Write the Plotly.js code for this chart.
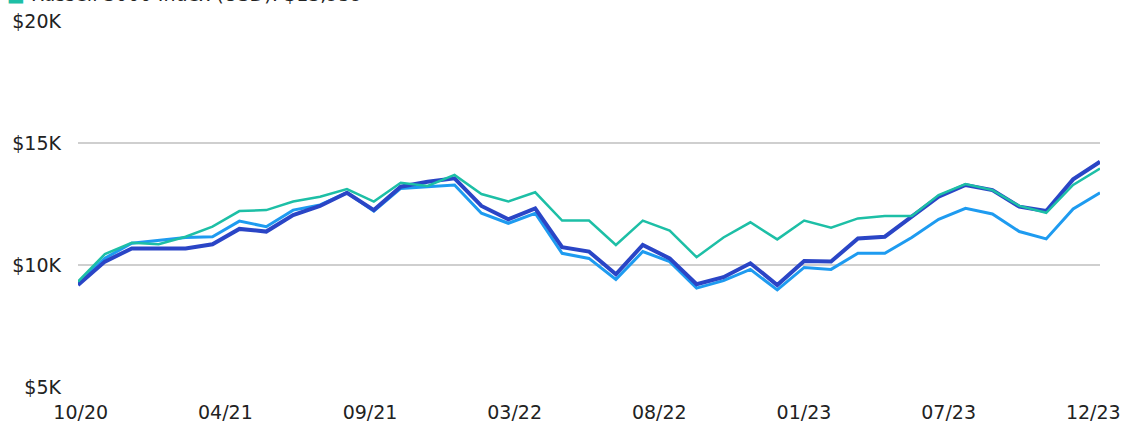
<!DOCTYPE html>
<html>
<head>
<meta charset="utf-8">
<script src="https://cdn.plot.ly/plotly-3.0.1.min.js"></script>
<style>
  html, body { margin: 0; padding: 0; background: #ffffff; }
  #chart { width: 1123px; height: 426px; }
</style>
</head>
<body>
<div id="chart"></div>
<script>
// Month labels (monthly, 10/20 .. 12/23)
const months = ["10/20","11/20","12/20","01/21","02/21","03/21","04/21","05/21","06/21","07/21","08/21","09/21",
  "10/21","11/21","12/21","01/22","02/22","03/22","04/22","05/22","06/22","07/22","08/22","09/22",
  "10/22","11/22","12/22","01/23","02/23","03/23","04/23","05/23","06/23","07/23","08/23","09/23",
  "10/23","11/23","12/23"];

// Values in $K
const fundA = [9.18,10.14,10.68,10.68,10.68,10.85,11.48,11.37,12.05,12.42,12.96,12.25,13.21,13.41,13.55,
  12.42,11.87,12.32,10.73,10.55,9.62,10.82,10.27,9.21,9.50,10.07,9.18,10.16,10.14,11.09,11.16,11.98,
  12.80,13.28,13.07,12.39,12.21,13.51,14.23];
const fundB = [9.26,10.28,10.89,11.02,11.13,11.16,11.80,11.57,12.25,12.46,12.96,12.21,13.14,13.21,13.28,
  12.12,11.71,12.12,10.48,10.27,9.41,10.55,10.14,9.05,9.36,9.82,8.98,9.90,9.82,10.48,10.48,11.13,
  11.87,12.32,12.09,11.37,11.07,12.30,12.96];
const russell3000 = [9.32,10.45,10.91,10.85,11.16,11.57,12.21,12.25,12.60,12.80,13.11,12.60,13.37,13.24,13.69,
  12.91,12.60,12.98,11.82,11.82,10.82,11.82,11.41,10.32,11.13,11.75,11.05,11.82,11.53,11.91,12.01,12.01,
  12.87,13.32,13.07,12.42,12.14,13.28,13.95];

const xTickText = ["10/20","04/21","09/21","03/22","08/22","01/23","07/23","12/23"];
const yTickVals = [5, 10, 15, 20];
const yTickText = ["$5K","$10K","$15K","$20K"];
const legendLabel = "Russell 3000 Index (USD): $13,959";

const idx = months.map((m, i) => i);
const nInt = xTickText.length - 1;
// labels spread evenly across the axis, kept inside the page at the right end
const tickStart = 0.1, tickEnd = months.length - 1 - 0.25;
const xTickVals = xTickText.map((t, k) => tickStart + k * (tickEnd - tickStart) / nInt);

const FONT = "DejaVu Sans, Verdana, sans-serif";

const traces = [
  { x: idx, y: fundB, text: months, type: "scatter", mode: "lines", name: "Fund B",
    line: { color: "#1e9bf0", width: 3 }, showlegend: false },
  { x: idx, y: fundA, text: months, type: "scatter", mode: "lines", name: "Fund A",
    line: { color: "#2a45c6", width: 4 }, showlegend: false },
  { x: idx, y: russell3000, text: months, type: "scatter", mode: "lines", name: "Russell 3000 Index (USD)",
    line: { color: "#1dbfa6", width: 2.5 }, showlegend: false }
];

const layout = {
  width: 1123, height: 426,
  margin: { l: 78, r: 23, t: 21, b: 39 },
  paper_bgcolor: "#ffffff", plot_bgcolor: "#ffffff",
  font: { family: FONT, size: 19, color: "#222222" },
  showlegend: false,
  xaxis: {
    range: [0, months.length - 1], tickmode: "array", tickvals: xTickVals, ticktext: xTickText,
    showgrid: false, zeroline: false, showline: false, ticks: "", ticklabelstandoff: 12,
    ticklabeloverflow: "allow",
    tickfont: { family: FONT, size: 19, color: "#222222" }
  },
  yaxis: {
    range: [5, 20], tickmode: "array", tickvals: yTickVals, ticktext: yTickText,
    showgrid: true, gridcolor: "#cfcfcf", gridwidth: 1.5, zeroline: false, showline: false,
    ticks: "", ticklabelstandoff: 16,
    tickfont: { family: FONT, size: 19, color: "#222222" }
  },
  annotations: [{
    xref: "paper", yref: "paper", x: -0.071, y: 1, yshift: 14, xanchor: "left", yanchor: "bottom",
    text: '<span style="color:#1dbfa6">■</span> ' + legendLabel,
    showarrow: false, font: { family: FONT, size: 19, color: "#222222" }
  }]
};

Plotly.newPlot("chart", traces, layout, { displayModeBar: false, staticPlot: true });
</script>
</body>
</html>
